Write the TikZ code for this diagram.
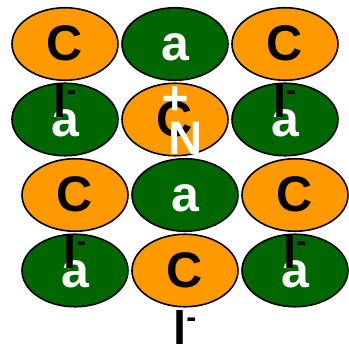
\documentclass[tikz,border=0pt]{standalone}
\usepackage{fontspec}
\setmainfont{Liberation Sans}
\usetikzlibrary{shapes.geometric,calc}

\definecolor{ionorange}{RGB}{255,153,0}
\definecolor{iongreen}{RGB}{0,102,0}

\tikzset{
  ion/.style={ellipse, draw=black, line width=1.6pt, minimum width=106pt, minimum height=72.5pt,
    inner sep=0pt, text height=34pt, text depth=0pt, font=\fontsize{50}{50}\selectfont\bfseries},
  orangeion/.style={ion, fill=ionorange, text=black},
  greenion/.style={ion, fill=iongreen, text=white},
  chargelabel/.style={anchor=base west, inner sep=0pt, font=\fontsize{47}{47}\selectfont\bfseries},
  sodiumlabel/.style={inner sep=0pt, text=white, font=\fontsize{47}{47}\selectfont\bfseries}
}

\begin{document}
\begin{tikzpicture}[x=1pt,y=-1pt]
  \useasboundingbox (0,0) rectangle (349,347);

  % lattice
  \foreach \r/\y/\dx in {1/44/0, 2/119.5/0, 3/195/10, 4/270.5/10} {
    \foreach \c in {1,2,3} {
      \pgfmathtruncatemacro{\odd}{mod(\r+\c,2)}
      \ifnum\odd=0
        \node[orangeion] (ion\r\c) at ({\dx+65+110*(\c-1)},\y) {C};
      \else
        \node[greenion] (ion\r\c) at ({\dx+65+110*(\c-1)},\y) {a};
      \fi
    }
  }

  % charges
  \foreach \n [count=\i] in {11,13,31,33,42}
    \node[chargelabel] (cl\i) at ($(ion\n)+(-12,74)$) {l\raisebox{17pt}{\fontsize{30}{30}\selectfont -}};

  \node[sodiumlabel] (plus) at ($(ion22)+(0,-19)$) {+};
  \node[sodiumlabel] (na) at ($(ion22)+(10,18.5)$) {N};
\end{tikzpicture}
\end{document}
